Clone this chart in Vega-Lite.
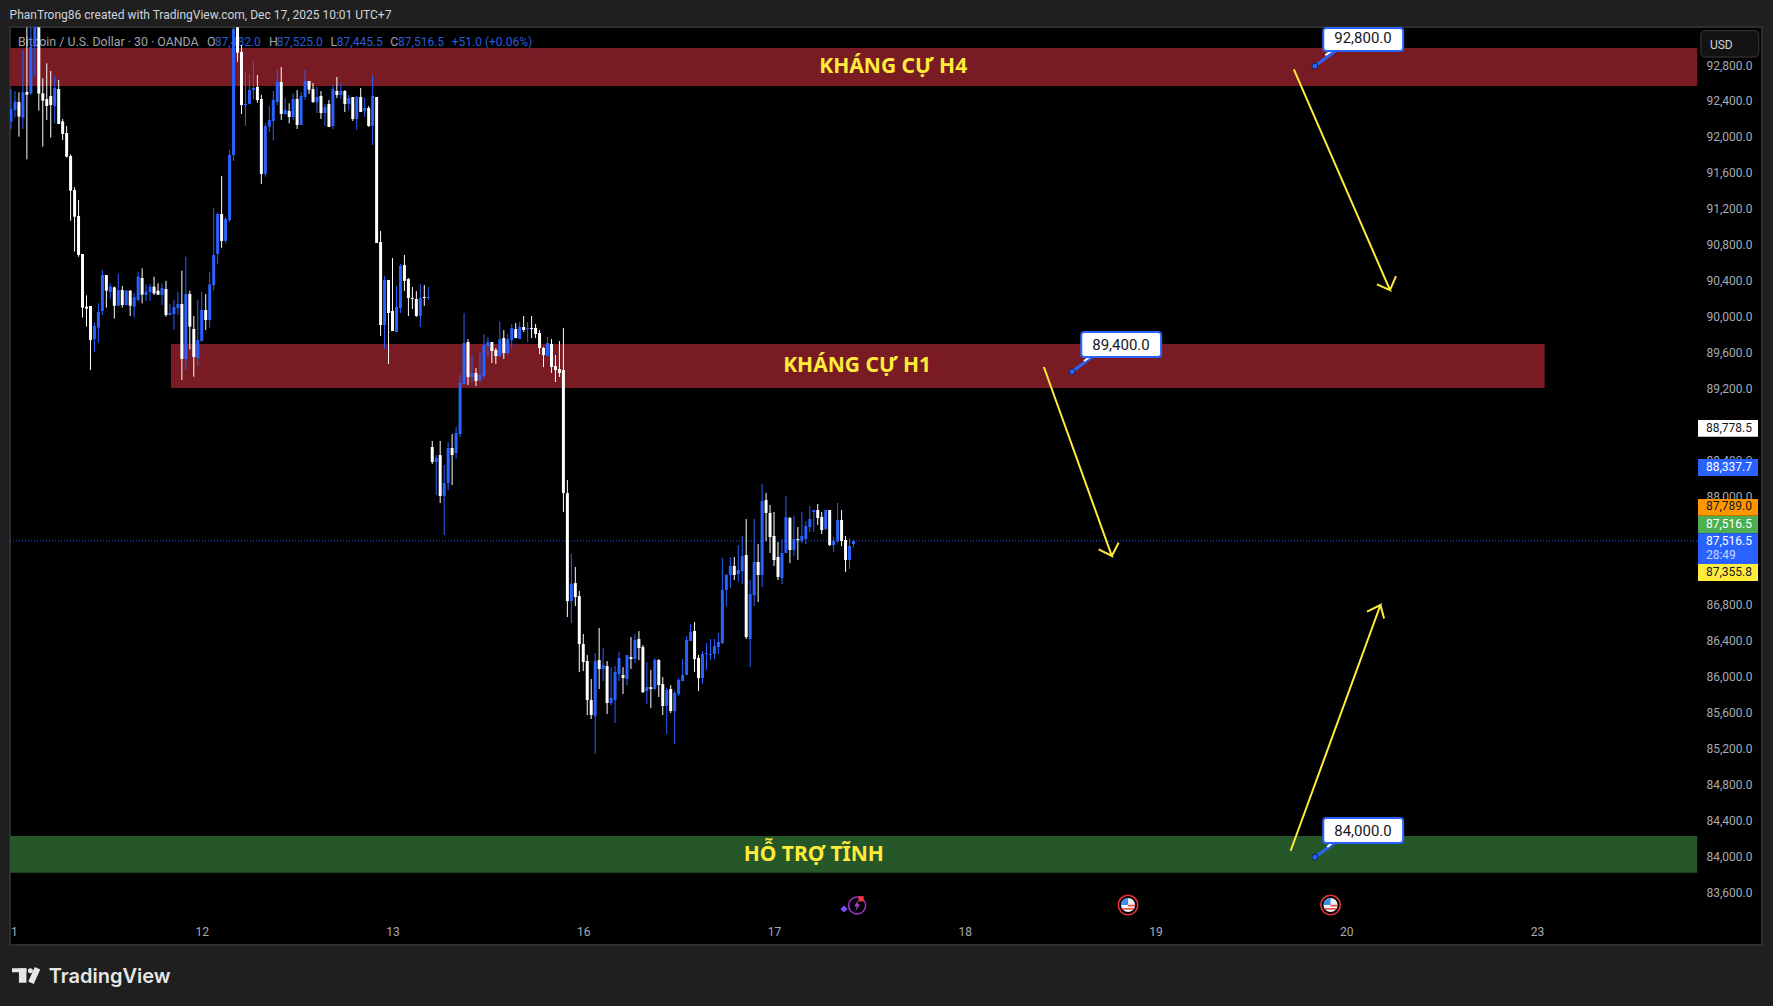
{"$schema":"https://vega.github.io/schema/vega-lite/v6.json","width":1752,"height":918,"autosize":{"type":"none"},"padding":{"left":10,"top":27,"right":11,"bottom":61},"background":"#1f1f1f","config":{"view":{"fill":"#000000","stroke":"#2e2e2e","strokeWidth":2},"font":"Roboto"},
"datasets":{"candles":[
{"i":0,"o":92181,"h":92544,"l":92099,"c":92322},{"i":1,"o":92311,"h":92522,"l":92226,"c":92404},{"i":2,"o":92400,"h":92507,"l":92014,"c":92237},{"i":3,"o":92226,"h":92978,"l":92099,"c":92507},{"i":4,"o":92511,"h":93230,"l":91762,"c":92481},{"i":5,"o":92493,"h":93230,"l":92480,"c":93015},{"i":6,"o":93015,"h":93230,"l":92689,"c":93230},{"i":7,"o":93230,"h":93230,"l":92303,"c":92493},{"i":8,"o":92496,"h":92663,"l":91903,"c":92415},{"i":9,"o":92433,"h":92830,"l":92200,"c":92355},
{"i":10,"o":92467,"h":92745,"l":92003,"c":92366},{"i":11,"o":92355,"h":92689,"l":92162,"c":92556},{"i":12,"o":92544,"h":92645,"l":92155,"c":92155},{"i":13,"o":92185,"h":92211,"l":91977,"c":92044},{"i":14,"o":92055,"h":92133,"l":91781,"c":91792},{"i":15,"o":91799,"h":91818,"l":91080,"c":91414},{"i":16,"o":91421,"h":91451,"l":90735,"c":91124},{"i":17,"o":91132,"h":91310,"l":90679,"c":90698},{"i":18,"o":90709,"h":90709,"l":90001,"c":90112},{"i":19,"o":90123,"h":90249,"l":89901,"c":90101},
{"i":20,"o":90131,"h":90131,"l":89419,"c":89752},{"i":21,"o":89763,"h":89945,"l":89623,"c":89908},{"i":22,"o":89890,"h":90160,"l":89723,"c":90064},{"i":23,"o":90075,"h":90531,"l":90030,"c":90475},{"i":24,"o":90475,"h":90475,"l":90112,"c":90301},{"i":25,"o":90286,"h":90383,"l":90212,"c":90346},{"i":26,"o":90338,"h":90346,"l":89990,"c":90134},{"i":27,"o":90134,"h":90486,"l":90134,"c":90308},{"i":28,"o":90308,"h":90353,"l":90112,"c":90142},{"i":29,"o":90142,"h":90308,"l":90134,"c":90301},
{"i":30,"o":90301,"h":90308,"l":90019,"c":90134},{"i":31,"o":90123,"h":90271,"l":90001,"c":90227},{"i":32,"o":90197,"h":90512,"l":90179,"c":90457},{"i":33,"o":90442,"h":90550,"l":90160,"c":90257},{"i":34,"o":90253,"h":90371,"l":90186,"c":90290},{"i":35,"o":90286,"h":90375,"l":90186,"c":90346},{"i":36,"o":90346,"h":90457,"l":90253,"c":90271},{"i":37,"o":90301,"h":90383,"l":90253,"c":90257},{"i":38,"o":90253,"h":90383,"l":90142,"c":90331},{"i":39,"o":90320,"h":90409,"l":90012,"c":90030},
{"i":40,"o":90030,"h":90153,"l":90030,"c":90053},{"i":41,"o":90042,"h":90197,"l":89864,"c":90119},{"i":42,"o":90108,"h":90290,"l":90030,"c":90153},{"i":43,"o":90153,"h":90524,"l":89307,"c":89541},{"i":44,"o":89541,"h":90679,"l":89419,"c":90264},{"i":45,"o":90264,"h":90301,"l":89648,"c":89901},{"i":46,"o":89875,"h":90019,"l":89344,"c":89563},{"i":47,"o":89552,"h":90197,"l":89463,"c":89752},{"i":48,"o":89741,"h":90290,"l":89734,"c":90086},{"i":49,"o":90086,"h":90264,"l":89864,"c":89975},
{"i":50,"o":89975,"h":90512,"l":89890,"c":90371},{"i":51,"o":90364,"h":91217,"l":90301,"c":90698},{"i":52,"o":90709,"h":91169,"l":90598,"c":91154},{"i":53,"o":91154,"h":91577,"l":90779,"c":90854},{"i":54,"o":90854,"h":91124,"l":90828,"c":91098},{"i":55,"o":91087,"h":91866,"l":91069,"c":91810},{"i":56,"o":91810,"h":93230,"l":91744,"c":93212},{"i":57,"o":93230,"h":93230,"l":92848,"c":92949},{"i":58,"o":92956,"h":93034,"l":92266,"c":92366},{"i":59,"o":92363,"h":92737,"l":92133,"c":92378},
{"i":60,"o":92378,"h":92711,"l":92378,"c":92533},{"i":61,"o":92533,"h":92856,"l":92433,"c":92556},{"i":62,"o":92567,"h":92700,"l":92392,"c":92422},{"i":63,"o":92433,"h":92478,"l":91488,"c":91599},{"i":64,"o":91599,"h":92162,"l":91569,"c":92133},{"i":65,"o":92125,"h":92355,"l":92066,"c":92200},{"i":66,"o":92188,"h":92522,"l":91970,"c":92422},{"i":67,"o":92400,"h":92756,"l":92366,"c":92626},{"i":68,"o":92622,"h":92789,"l":92200,"c":92266},{"i":69,"o":92266,"h":92444,"l":92255,"c":92311},
{"i":70,"o":92300,"h":92385,"l":92162,"c":92233},{"i":71,"o":92233,"h":92496,"l":92200,"c":92433},{"i":72,"o":92433,"h":92533,"l":92099,"c":92144},{"i":73,"o":92144,"h":92511,"l":92144,"c":92467},{"i":74,"o":92455,"h":92756,"l":92422,"c":92633},{"i":75,"o":92633,"h":92633,"l":92489,"c":92537},{"i":76,"o":92544,"h":92611,"l":92389,"c":92400},{"i":77,"o":92400,"h":92567,"l":92277,"c":92455},{"i":78,"o":92467,"h":92522,"l":92211,"c":92277},{"i":79,"o":92277,"h":92378,"l":92133,"c":92344},
{"i":80,"o":92378,"h":92422,"l":92122,"c":92122},{"i":81,"o":92133,"h":92589,"l":92099,"c":92544},{"i":82,"o":92522,"h":92678,"l":92444,"c":92478},{"i":83,"o":92478,"h":92611,"l":92433,"c":92522},{"i":84,"o":92522,"h":92533,"l":92289,"c":92378},{"i":85,"o":92378,"h":92478,"l":92311,"c":92444},{"i":86,"o":92455,"h":92455,"l":92188,"c":92211},{"i":87,"o":92211,"h":92467,"l":92088,"c":92455},{"i":88,"o":92455,"h":92556,"l":92289,"c":92289},{"i":89,"o":92300,"h":92444,"l":92233,"c":92333},
{"i":90,"o":92333,"h":92355,"l":92122,"c":92133},{"i":91,"o":92133,"h":92700,"l":91921,"c":92467},{"i":92,"o":92455,"h":92455,"l":90831,"c":90831},{"i":93,"o":90842,"h":90965,"l":89797,"c":89919},{"i":94,"o":89919,"h":90464,"l":89652,"c":90420},{"i":95,"o":90420,"h":90420,"l":89485,"c":90053},{"i":96,"o":90075,"h":90664,"l":89852,"c":89852},{"i":97,"o":89841,"h":90353,"l":89841,"c":90119},{"i":98,"o":90108,"h":90598,"l":90053,"c":90575},{"i":99,"o":90587,"h":90698,"l":90297,"c":90409},
{"i":100,"o":90431,"h":90442,"l":90019,"c":90219},{"i":101,"o":90219,"h":90342,"l":90097,"c":90208},{"i":102,"o":90208,"h":90297,"l":90008,"c":90019},{"i":103,"o":90019,"h":90375,"l":89897,"c":90219},{"i":104,"o":90231,"h":90364,"l":90131,"c":90219},{"i":105,"o":90219,"h":90342,"l":90197,"c":90231},{"i":106,"o":88562,"h":88629,"l":88373,"c":88395},{"i":107,"o":88395,"h":88473,"l":88028,"c":88439},{"i":108,"o":88473,"h":88629,"l":87939,"c":88017},{"i":109,"o":88017,"h":88362,"l":87583,"c":88161},
{"i":110,"o":88161,"h":88617,"l":88083,"c":88551},{"i":111,"o":88551,"h":88706,"l":88139,"c":88473},{"i":112,"o":88495,"h":88784,"l":88428,"c":88717},{"i":113,"o":88706,"h":89363,"l":88673,"c":89274},{"i":114,"o":89263,"h":90052,"l":89251,"c":89719},{"i":115,"o":89730,"h":89763,"l":89251,"c":89340},{"i":116,"o":89340,"h":89585,"l":89285,"c":89385},{"i":117,"o":89385,"h":89441,"l":89240,"c":89296},{"i":118,"o":89307,"h":89619,"l":89285,"c":89363},{"i":119,"o":89352,"h":89819,"l":89318,"c":89696},
{"i":120,"o":89685,"h":89785,"l":89563,"c":89730},{"i":121,"o":89730,"h":89730,"l":89496,"c":89630},{"i":122,"o":89641,"h":89663,"l":89485,"c":89574},{"i":123,"o":89574,"h":89952,"l":89563,"c":89763},{"i":124,"o":89774,"h":89863,"l":89541,"c":89607},{"i":125,"o":89607,"h":89819,"l":89585,"c":89763},{"i":126,"o":89752,"h":89930,"l":89663,"c":89886},{"i":127,"o":89874,"h":89941,"l":89774,"c":89774},{"i":128,"o":89763,"h":89952,"l":89763,"c":89897},{"i":129,"o":89897,"h":90019,"l":89841,"c":89863},
{"i":130,"o":89874,"h":89952,"l":89730,"c":89886},{"i":131,"o":89886,"h":90019,"l":89774,"c":89874},{"i":132,"o":89886,"h":89930,"l":89774,"c":89819},{"i":133,"o":89830,"h":89863,"l":89596,"c":89663},{"i":134,"o":89663,"h":89674,"l":89452,"c":89585},{"i":135,"o":89574,"h":89785,"l":89574,"c":89719},{"i":136,"o":89708,"h":89763,"l":89385,"c":89452},{"i":137,"o":89463,"h":89585,"l":89285,"c":89418},{"i":138,"o":89429,"h":89741,"l":89340,"c":89385},{"i":139,"o":89418,"h":89886,"l":87839,"c":88050},
{"i":140,"o":88050,"h":88195,"l":86671,"c":86849},{"i":141,"o":86849,"h":87372,"l":86604,"c":87038},{"i":142,"o":87049,"h":87227,"l":86793,"c":86893},{"i":143,"o":86904,"h":86960,"l":86059,"c":86370},{"i":144,"o":86370,"h":86482,"l":86070,"c":86170},{"i":145,"o":86181,"h":86248,"l":85581,"c":85747},{"i":146,"o":85747,"h":85981,"l":85536,"c":85581},{"i":147,"o":85569,"h":86270,"l":85147,"c":86181},{"i":148,"o":86192,"h":86548,"l":85870,"c":86092},{"i":149,"o":86092,"h":86326,"l":85959,"c":86137},
{"i":150,"o":86126,"h":86181,"l":85592,"c":85714},{"i":151,"o":85714,"h":86114,"l":85692,"c":85770},{"i":152,"o":85747,"h":86126,"l":85491,"c":86059},{"i":153,"o":86037,"h":86281,"l":85959,"c":86215},{"i":154,"o":86026,"h":86114,"l":85814,"c":85992},{"i":155,"o":85981,"h":86248,"l":85914,"c":86248},{"i":156,"o":86226,"h":86448,"l":86092,"c":86203},{"i":157,"o":86203,"h":86482,"l":86159,"c":86415},{"i":158,"o":86426,"h":86515,"l":86192,"c":86326},{"i":159,"o":86337,"h":86359,"l":85825,"c":85836},
{"i":160,"o":85848,"h":86170,"l":85703,"c":85892},{"i":161,"o":85892,"h":86081,"l":85658,"c":85870},{"i":162,"o":85870,"h":86215,"l":85859,"c":86192},{"i":163,"o":86192,"h":86203,"l":85781,"c":85914},{"i":164,"o":85925,"h":86003,"l":85581,"c":85681},{"i":165,"o":85681,"h":85881,"l":85369,"c":85859},{"i":166,"o":85870,"h":85914,"l":85603,"c":85625},{"i":167,"o":85625,"h":85848,"l":85258,"c":85825},{"i":168,"o":85814,"h":85992,"l":85792,"c":85970},{"i":169,"o":85959,"h":86203,"l":85959,"c":86026},
{"i":170,"o":86026,"h":86459,"l":86026,"c":86415},{"i":171,"o":86404,"h":86593,"l":86404,"c":86504},{"i":172,"o":86515,"h":86615,"l":86059,"c":86203},{"i":173,"o":86215,"h":86248,"l":85847,"c":85992},{"i":174,"o":85992,"h":86292,"l":85925,"c":86259},{"i":175,"o":86259,"h":86381,"l":86081,"c":86270},{"i":176,"o":86248,"h":86426,"l":86192,"c":86259},{"i":177,"o":86259,"h":86426,"l":86203,"c":86348},{"i":178,"o":86337,"h":86493,"l":86259,"c":86393},{"i":179,"o":86381,"h":87327,"l":86370,"c":86971},
{"i":180,"o":86971,"h":87149,"l":86793,"c":87138},{"i":181,"o":87138,"h":87338,"l":86993,"c":87238},{"i":182,"o":87238,"h":87338,"l":87082,"c":87138},{"i":183,"o":87149,"h":87472,"l":87060,"c":87194},{"i":184,"o":87182,"h":87572,"l":87038,"c":87349},{"i":185,"o":87360,"h":87761,"l":86426,"c":86448},{"i":186,"o":86426,"h":87082,"l":86114,"c":86927},{"i":187,"o":86915,"h":87761,"l":86793,"c":87283},{"i":188,"o":87283,"h":87483,"l":86838,"c":87138},{"i":189,"o":87138,"h":88150,"l":87004,"c":87961},
{"i":190,"o":87972,"h":88050,"l":87516,"c":87828},{"i":191,"o":87828,"h":87917,"l":87383,"c":87561},{"i":192,"o":87572,"h":87839,"l":87238,"c":87305},{"i":193,"o":87338,"h":87505,"l":87082,"c":87116},{"i":194,"o":87105,"h":87538,"l":87038,"c":87383},{"i":195,"o":87383,"h":88017,"l":87383,"c":87783},{"i":196,"o":87772,"h":87783,"l":87271,"c":87416},{"i":197,"o":87416,"h":87794,"l":87349,"c":87538},{"i":198,"o":87538,"h":87672,"l":87305,"c":87527},{"i":199,"o":87516,"h":87839,"l":87494,"c":87572},
{"i":200,"o":87538,"h":87739,"l":87483,"c":87683},{"i":201,"o":87672,"h":87905,"l":87616,"c":87761},{"i":202,"o":87839,"h":87861,"l":87616,"c":87861},{"i":203,"o":87861,"h":87928,"l":87694,"c":87772},{"i":204,"o":87783,"h":87839,"l":87594,"c":87638},{"i":205,"o":87650,"h":87861,"l":87638,"c":87861},{"i":206,"o":87861,"h":87861,"l":87460,"c":87471},{"i":207,"o":87471,"h":87561,"l":87394,"c":87516},{"i":208,"o":87516,"h":87939,"l":87494,"c":87750},{"i":209,"o":87750,"h":87861,"l":87460,"c":87516},
{"i":210,"o":87527,"h":87572,"l":87171,"c":87305},{"i":211,"o":87305,"h":87550,"l":87205,"c":87461},{"i":212,"o":87482,"h":87525,"l":87445.5,"c":87516.5}
]},
"encoding":{"x":{"field":"i","type":"quantitative","scale":{"domain":[-0.25,440.6],"nice":false,"zero":false,"padding":0},"axis":{"title":null,"orient":"bottom","offset":-19,"values":[0.75,48,96,144,192,240,288,336,384],"labelExpr":"{'0.75':'1','48':'12','96':'13','144':'16','192':'17','240':'18','288':'19','336':'20','384':'23'}[''+datum.value]","grid":false,"domain":false,"ticks":false,"labelPadding":0,"labelColor":"#a8abb3","labelFontSize":12,"labelOverlap":false,"labelBound":false,"labelFlush":false,"labelFont":"Roboto"}},
"y":{"field":"p","type":"quantitative","scale":{"domain":[83022.6,93234],"nice":false,"zero":false},"axis":{"title":null,"orient":"right","offset":-64,"values":[92800,92400,92000,91600,91200,90800,90400,90000,89600,89200,88800,88400,88000,87600,87200,86800,86400,86000,85600,85200,84800,84400,84000,83600],"format":",.1f","grid":false,"domain":false,"ticks":false,"labelPadding":8,"labelOffset":-1,"labelColor":"#a8abb3","labelFontSize":12,"labelOverlap":false,"labelBound":false,"labelFont":"Roboto"}}},
"layer":[
{"data":{"values":[{"i":-0.25,"i2":424.3,"p":93001,"p2":92578},{"i":40.26,"i2":385.9,"p":89708,"p2":89218}]},"mark":{"type":"rect","fill":"#791b22"},"encoding":{"x2":{"field":"i2"},"y2":{"field":"p2"}}},
{"data":{"values":[{"i":-0.25,"i2":424.3,"p":84235,"p2":83827}]},"mark":{"type":"rect","fill":"#265728"},"encoding":{"x2":{"field":"i2"},"y2":{"field":"p2"}}},
{"data":{"values":[{"i":-0.25,"i2":424.5,"p":87516.5}]},"mark":{"type":"rule","color":"#2962ff","strokeWidth":1,"strokeDash":[1,2]},"encoding":{"x2":{"field":"i2"}}},
{"data":{"values":[{"i":1.76,"p":93070,"t":"Bitcoin / U.S. Dollar · 30 · OANDA"},{"i":49.3,"p":93070,"t":"O"},{"i":64.9,"p":93070,"t":"H"},{"i":80.4,"p":93070,"t":"L"},{"i":95.4,"p":93070,"t":"C"}]},"mark":{"type":"text","align":"left","baseline":"middle","fontSize":12.4,"color":"#a0a3ab"},"encoding":{"text":{"field":"t"}}},
{"data":{"values":[{"i":51.3,"p":93070,"t":"87,482.0"},{"i":66.9,"p":93070,"t":"87,525.0"},{"i":82,"p":93070,"t":"87,445.5"},{"i":97.4,"p":93070,"t":"87,516.5"},{"i":110.9,"p":93070,"t":"+51.0 (+0.06%)"}]},"mark":{"type":"text","align":"left","baseline":"middle","fontSize":12,"color":"#2a5bd8"},"encoding":{"text":{"field":"t"}}},
{"data":{"values":[{"i":222,"p":92790,"t":"KHÁNG CỰ H4"},{"i":212.9,"p":89460,"t":"KHÁNG CỰ H1"},{"i":202,"p":84025,"t":"HỖ TRỢ TĨNH"}]},"mark":{"type":"text","align":"center","baseline":"middle","fontSize":21,"fontWeight":"bold","font":"Noto Sans","color":"#ffeb3b"},"encoding":{"text":{"field":"t"}}},
{"data":{"name":"candles"},"mark":{"type":"rule","clip":true,"strokeWidth":1},"encoding":{"y":{"field":"h","type":"quantitative","scale":{"domain":[83022.6,93234],"nice":false,"zero":false},"axis":{"title":null,"orient":"right","offset":-64,"values":[92800,92400,92000,91600,91200,90800,90400,90000,89600,89200,88800,88400,88000,87600,87200,86800,86400,86000,85600,85200,84800,84400,84000,83600],"format":",.1f","grid":false,"domain":false,"ticks":false,"labelPadding":8,"labelOffset":-1,"labelColor":"#a8abb3","labelFontSize":12,"labelOverlap":false,"labelBound":false,"labelFont":"Roboto"}},"y2":{"field":"l"},"color":{"condition":{"test":"datum.c>=datum.o","value":"#2962ff"},"value":"#ffffff"}}},
{"data":{"name":"candles"},"mark":{"type":"bar","size":3,"clip":true},"encoding":{"y":{"field":"o","type":"quantitative","scale":{"domain":[83022.6,93234],"nice":false,"zero":false},"axis":{"title":null,"orient":"right","offset":-64,"values":[92800,92400,92000,91600,91200,90800,90400,90000,89600,89200,88800,88400,88000,87600,87200,86800,86400,86000,85600,85200,84800,84400,84000,83600],"format":",.1f","grid":false,"domain":false,"ticks":false,"labelPadding":8,"labelOffset":-1,"labelColor":"#a8abb3","labelFontSize":12,"labelOverlap":false,"labelBound":false,"labelFont":"Roboto"}},"y2":{"field":"c"},"color":{"condition":{"test":"datum.c>=datum.o","value":"#2962ff"},"value":"#ffffff"}}},
{"data":{"values":[{"a":"A","k":0,"i":322.8,"p":92763},{"a":"A","k":1,"i":347,"p":90308},{"a":"A","k":2,"i":343.7,"p":90372},{"a":"A","k":3,"i":347,"p":90308},{"a":"A","k":4,"i":348.5,"p":90464},{"a":"B","k":0,"i":259.9,"p":89452},{"a":"B","k":1,"i":277,"p":87350},{"a":"B","k":2,"i":273.7,"p":87424},{"a":"B","k":3,"i":277,"p":87350},{"a":"B","k":4,"i":278.7,"p":87497},{"a":"C","k":0,"i":322,"p":84071},{"a":"C","k":1,"i":344.6,"p":86804},{"a":"C","k":2,"i":341.2,"p":86730},{"a":"C","k":3,"i":344.6,"p":86804},{"a":"C","k":4,"i":345.5,"p":86654}]},"mark":{"type":"line","color":"#ffeb3b","strokeWidth":2,"strokeJoin":"miter"},"encoding":{"detail":{"field":"a"},"order":{"field":"k"}}},
{"data":{"values":[{"a":"A","k":0,"i":328.1,"p":92800},{"a":"A","k":1,"i":333.2,"p":92967},{"a":"B","k":0,"i":267,"p":89400},{"a":"B","k":1,"i":272,"p":89563},{"a":"C","k":0,"i":328.1,"p":84000},{"a":"C","k":1,"i":333,"p":84157}]},"mark":{"type":"line","color":"#2962ff","strokeWidth":3},"encoding":{"detail":{"field":"a"},"order":{"field":"k"}}},
{"data":{"values":[{"a":"A","k":0,"i":330.7,"p":92922},{"a":"A","k":1,"i":332.7,"p":92978},{"a":"B","k":0,"i":270,"p":89519},{"a":"B","k":1,"i":271.8,"p":89574},{"a":"C","k":0,"i":331.2,"p":84112},{"a":"C","k":1,"i":332.7,"p":84168}]},"mark":{"type":"line","color":"#ffffff","strokeWidth":2},"encoding":{"detail":{"field":"a"},"order":{"field":"k"}}},
{"data":{"values":[{"i":330.2,"i2":350.3,"p":93223,"p2":92967},{"i":269.3,"i2":289.4,"p":89841,"p2":89563},{"i":330.2,"i2":350.3,"p":84435,"p2":84157}]},"mark":{"type":"rect","fill":"#ffffff","stroke":"#2962ff","strokeWidth":2,"cornerRadius":3},"encoding":{"x2":{"field":"i2"},"y2":{"field":"p2"}}},
{"data":{"values":[{"i":340.2,"p":93108,"t":"92,800.0"},{"i":279.3,"p":89702,"t":"89,400.0"},{"i":340.2,"p":84296,"t":"84,000.0"}]},"mark":{"type":"text","align":"center","baseline":"middle","fontSize":15,"color":"#131722"},"encoding":{"text":{"field":"t"}}},
{"data":{"values":[{"i":328.1,"p":92800},{"i":267,"p":89400},{"i":328.1,"p":84000}]},"mark":{"type":"point","filled":true,"shape":"circle","size":36,"fill":"#2962ff","stroke":"#10224f","strokeWidth":1,"opacity":1},"encoding":{}},
{"data":{"values":[{"tag":"ref","i":424.5,"i2":439.6,"p":88862,"p2":88677},{"tag":"avg","i":424.5,"i2":439.6,"p":88428,"p2":88239},{"tag":"high","i":424.5,"i2":439.6,"p":87983,"p2":87798},{"tag":"vwap","i":424.5,"i2":439.6,"p":87794,"p2":87602},{"tag":"last","i":424.5,"i2":439.6,"p":87602,"p2":87260},{"tag":"low","i":424.5,"i2":439.6,"p":87260,"p2":87071}]},"mark":{"type":"rect"},"encoding":{"x2":{"field":"i2"},"y2":{"field":"p2"},"color":{"field":"tag","type":"nominal","legend":null,"scale":{"domain":["ref","avg","high","vwap","last","low"],"range":["#ffffff","#2962ff","#ff9800","#4caf50","#2962ff","#ffeb3b"]}}}},
{"data":{"values":[{"i":426.5,"p":88778.5,"t":"88,778.5"},{"i":426.5,"p":87902,"t":"87,789.0"},{"i":426.5,"p":87175,"t":"87,355.8"}]},"mark":{"type":"text","align":"left","baseline":"middle","fontSize":12,"color":"#131722"},"encoding":{"text":{"field":"t"}}},
{"data":{"values":[{"i":426.5,"p":88340,"t":"88,337.7"},{"i":426.5,"p":87709,"t":"87,516.5"},{"i":426.5,"p":87516.5,"t":"87,516.5"}]},"mark":{"type":"text","align":"left","baseline":"middle","fontSize":12,"color":"#ffffff"},"encoding":{"text":{"field":"t"}}},
{"data":{"values":[{"i":426.5,"p":87361,"t":"28:49"}]},"mark":{"type":"text","align":"left","baseline":"middle","fontSize":12,"color":"#c9d6ff"},"encoding":{"text":{"field":"t"}}},
{"data":{"values":[{"i":425.2,"i2":439.8,"p":93193,"p2":92900}]},"mark":{"type":"rect","fill":"#131313","stroke":"#3a3a3a","strokeWidth":1,"cornerRadius":4},"encoding":{"x2":{"field":"i2"},"y2":{"field":"p2"}}},
{"data":{"values":[{"i":427.5,"p":93037,"t":"USD"}]},"mark":{"type":"text","align":"left","baseline":"middle","fontSize":12,"color":"#d1d4dc"},"encoding":{"text":{"field":"t"}}},
{"data":{"values":[{"i":281.08,"p":83467},{"i":332.04,"p":83467}]},"mark":{"type":"point","filled":true,"shape":"circle","size":380,"fill":"#000000","stroke":"#e8303f","strokeWidth":1.6,"opacity":1},"encoding":{}},
{"data":{"values":[{"i":281.08,"p":83467},{"i":332.04,"p":83467}]},"mark":{"type":"point","filled":true,"shape":"circle","size":200,"fill":"#f2f2f2","opacity":1},"encoding":{}},
{"data":{"values":[{"i":281.08,"p":83467},{"i":332.04,"p":83467}]},"mark":{"type":"point","filled":true,"shape":"M0,0L0,-1A1,1 0 0 0 -1,0Z","size":200,"fill":"#3f8fe8","opacity":1},"encoding":{}},
{"data":{"values":[{"i":281.08,"p":83467},{"i":332.04,"p":83467}]},"mark":{"type":"point","filled":true,"shape":"M0,-0.05L1,-0.05L0.98,0.2L0,0.2ZM-0.92,0.4L0.92,0.4L0.75,0.66L-0.75,0.66Z","size":200,"fill":"#ef5350","opacity":1},"encoding":{}},
{"data":{"values":[{"i":212.9,"p":83462}]},"mark":{"type":"point","shape":"circle","size":290,"fill":"#000000","filled":false,"stroke":"#a032c8","strokeWidth":1.5,"opacity":1},"encoding":{}},
{"data":{"values":[{"i":212.9,"p":83462}]},"mark":{"type":"point","filled":true,"shape":"M0.25,-1L-0.5,0.15L-0.05,0.15L-0.25,1L0.5,-0.2L0.05,-0.2Z","size":130,"fill":"#b044e0","opacity":1},"encoding":{}},
{"data":{"values":[{"i":213.9,"p":83537}]},"mark":{"type":"point","filled":true,"shape":"square","size":28,"fill":"#f23645","opacity":1},"encoding":{}},
{"data":{"values":[{"i":209.6,"p":83423}]},"mark":{"type":"point","filled":true,"shape":"diamond","size":50,"fill":"#7c4dff","opacity":1},"encoding":{}},
{"data":{"values":[{"i":-0.35,"p":93371,"t":"PhanTrong86 created with TradingView.com, Dec 17, 2025 10:01 UTC+7"}]},"mark":{"type":"text","align":"left","baseline":"middle","fontSize":12,"color":"#d1d4dc"},"encoding":{"text":{"field":"t"}}},
{"data":{"values":[{"i":9.5,"p":82670,"t":"TradingView"}]},"mark":{"type":"text","align":"left","baseline":"middle","fontSize":20,"fontWeight":600,"font":"Inter","color":"#e6e6e6"},"encoding":{"text":{"field":"t"}}},
{"data":{"values":[{"i":0.25,"i2":3.88,"p":82763,"p2":82719},{"i":2,"i2":3.88,"p":82763,"p2":82603}]},"mark":{"type":"rect","fill":"#e6e6e6"},"encoding":{"x2":{"field":"i2"},"y2":{"field":"p2"}}},
{"data":{"values":[{"i":4.88,"p":82737}]},"mark":{"type":"point","filled":true,"shape":"circle","size":25,"fill":"#e6e6e6","opacity":1},"encoding":{}},
{"data":{"values":[{"k":0,"i":6.67,"p":82763},{"k":1,"i":5.03,"p":82603}]},"mark":{"type":"line","color":"#e6e6e6","strokeWidth":6},"encoding":{"order":{"field":"k"}}}
]}
